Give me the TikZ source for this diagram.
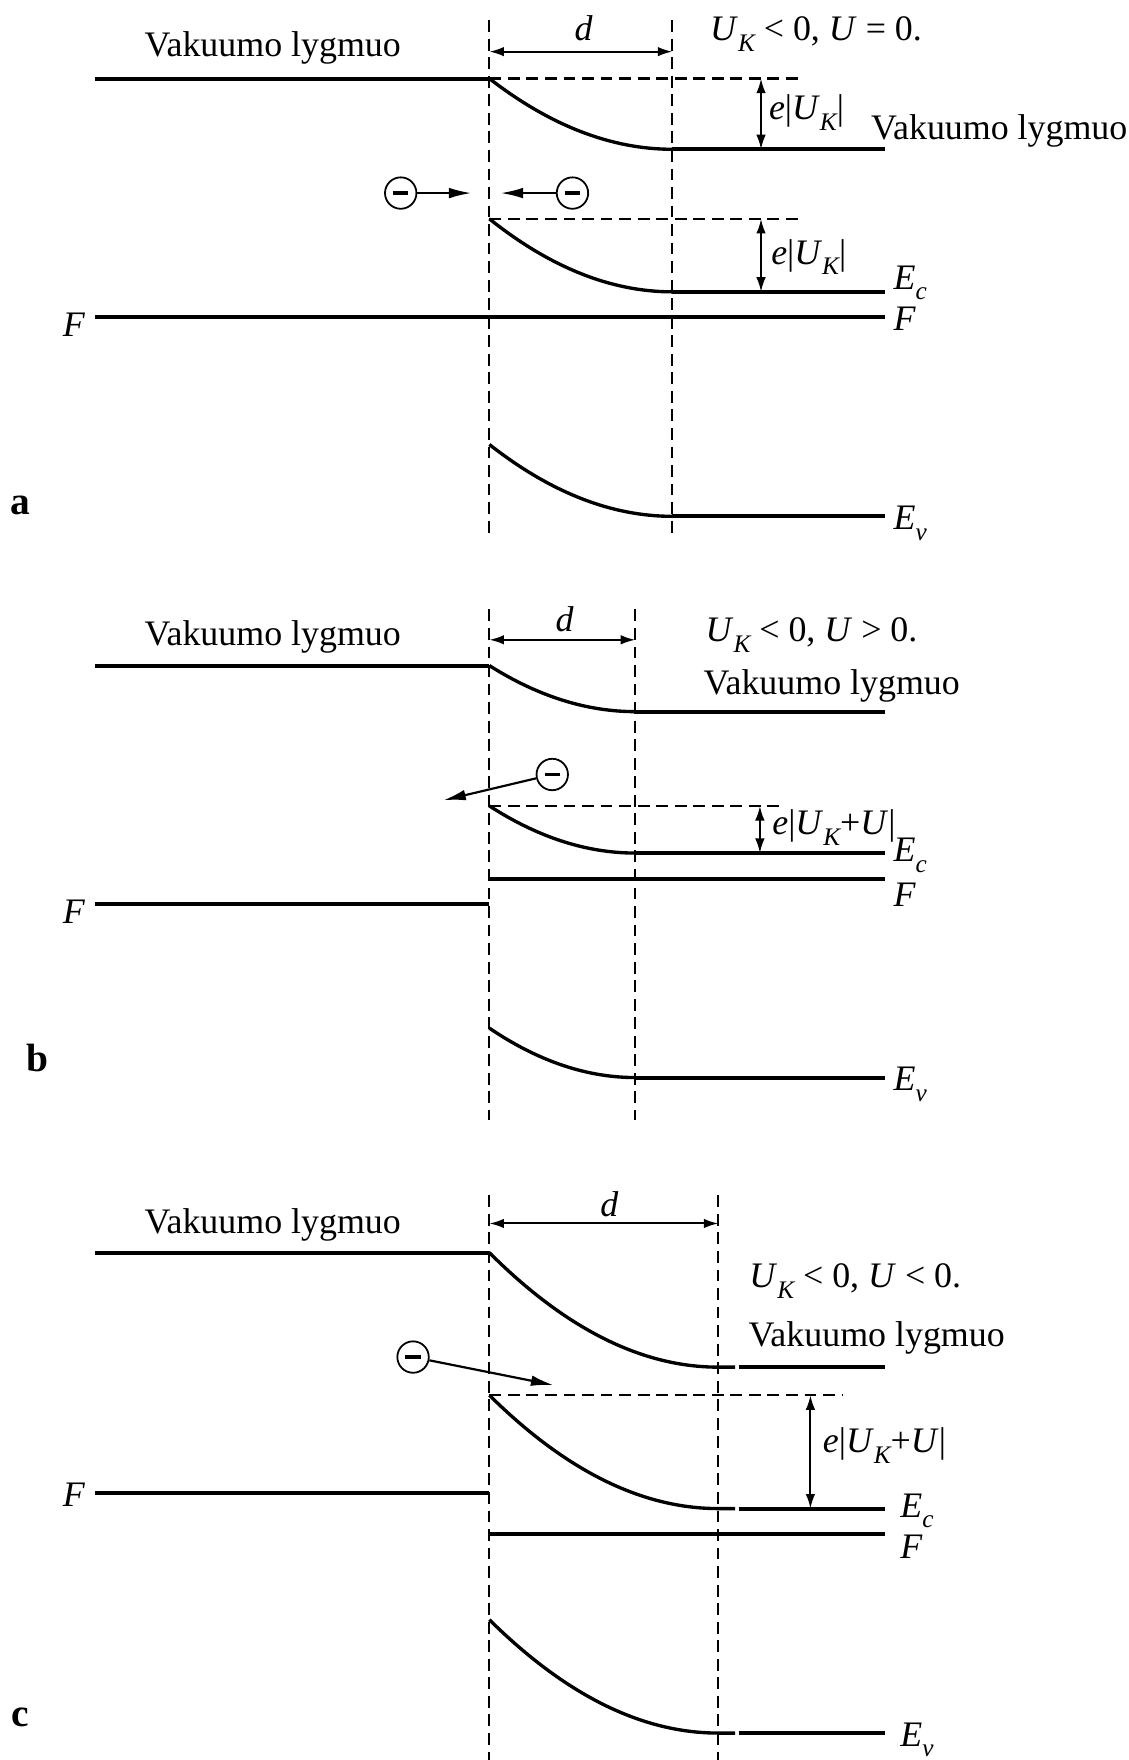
\documentclass[tikz,border=0pt]{standalone}
\usepackage{fontspec}
\setmainfont{Liberation Serif}
\usetikzlibrary{arrows.meta}
\tikzset{
  level/.style={line width=2pt},
  bendln/.style={line width=1.7pt},
  guide/.style={line width=1.1pt,dash pattern=on 6pt off 3.4pt},
  dimarr/.style={{Latex[length=2.6mm,width=1.7mm]}-{Latex[length=2.6mm,width=1.7mm]},line width=1pt},
  elarr/.style={-{Latex[length=4mm,width=1.9mm]},line width=1.1pt},
  elec/.style={circle,draw,line width=0.9pt,minimum size=5.6mm,inner sep=0pt},
  txt/.style={font=\fontsize{18.2}{20}\selectfont,inner sep=1pt},
  plbl/.style={font=\fontsize{20}{22}\selectfont\bfseries},
}
\newcommand{\lowsub}[1]{\raisebox{-5.5pt}{\fontsize{12.8}{13}\selectfont\itshape #1}}
\newcommand{\ukval}{\textit{U}\lowsub{K}}
\newcommand{\minusbar}{\rule{2.7mm}{0.62mm}}

\begin{document}
\begin{tikzpicture}[x=0.02cm,y=-0.02cm]
  \useasboundingbox (0,0) rectangle (1005,1568);

  % ---- a: U_K<0, U=0 ----
  \draw[guide] (436,18)--(436,475) (599,18)--(599,475);
  \draw[guide] (436,70)--(715,70) (436,195)--(715,195);
  \draw[level] (85,70)--(436,70);
  \node[txt] (vacLa) at (243,43) {Vakuumo lygmuo};
  \draw[dimarr] (436,46)--(599,46);
  \node[txt] (da) at (520,25) {\textit{d}};
  \node[txt] (conda) at (727,30) {\ukval{} < 0, \textit{U} = 0.};
  % bent bands, flat beyond d
  \foreach \ya/\yb in {70/133,195/260,396/460}{
    \draw[bendln] (436,\ya) .. controls ({436+163/3},{\ya+2*(\yb-\ya)/3}) and ({436+2*163/3},\yb) .. (599,\yb);
    \draw[level] (599,\yb)--(788,\yb);
  }
  \draw[dimarr] (678,70)--(678,133);
  \node[txt,anchor=west] (uka1) at (683,100) {\textit{e}|\ukval|};
  \node[txt,anchor=west] (vacRa) at (774,117) {Vakuumo lygmuo};
  \draw[dimarr] (678,195)--(678,260);
  \node[txt,anchor=west] (uka2) at (685,229) {\textit{e}|\ukval|};
  \node[txt,anchor=west] (Eca) at (794,252) {\textit{E}\lowsub{c}};
  \draw[level] (85,282)--(788,282);
  \node[txt,anchor=east] (FLa) at (78,289) {\textit{F}};
  \node[txt,anchor=west] (FRa) at (794,284) {\textit{F}};
  \node[txt,anchor=west] (Eva) at (794,466) {\textit{E}\lowsub{v}};
  \node[plbl] (pa) at (18,450) {a};
  % electrons meeting at the contact
  \node[elec] (ea1) at (357,172) {\minusbar};
  \node[elec] (ea2) at (510,172) {\minusbar};
  \coordinate (ta1) at (420,172);
  \coordinate (ta2) at (446,172);
  \draw[elarr] (ea1)--(ta1);
  \draw[elarr] (ea2)--(ta2);

  % ---- b: U_K<0, U>0 ----
  \draw[guide] (436,543)--(436,998) (566,543)--(566,998);
  \draw[guide] (436,718)--(700,718);
  \draw[level] (85,593)--(436,593);
  \node[txt] (vacLb) at (243,567) {Vakuumo lygmuo};
  \draw[dimarr] (436,570)--(566,570);
  \node[txt] (db) at (503,552) {\textit{d}};
  \node[txt] (condb) at (723,566) {\ukval{} < 0, \textit{U} > 0.};
  \node[txt] (vacRb) at (741,611) {Vakuumo lygmuo};
  \foreach \ya/\yb in {593/634,718/760,916/960}{
    \draw[bendln] (436,\ya) .. controls ({436+130/3},{\ya+2*(\yb-\ya)/3}) and ({436+2*130/3},\yb) .. (566,\yb);
    \draw[level] (566,\yb)--(788,\yb);
  }
  \draw[dimarr] (677,718)--(677,760);
  \node[txt,anchor=west] (ukb) at (686,737) {\textit{e}|\ukval+\textit{U}|};
  \node[txt,anchor=west] (Ecb) at (794,762) {\textit{E}\lowsub{c}};
  \draw[level] (85,805)--(436,805);
  \draw[level] (436,783)--(788,783);
  \node[txt,anchor=east] (FLb) at (78,812) {\textit{F}};
  \node[txt,anchor=west] (FRb) at (794,797) {\textit{F}};
  \node[txt,anchor=west] (Evb) at (794,966) {\textit{E}\lowsub{v}};
  \node[plbl] (pb) at (33,943) {b};
  % electron leaving the semiconductor
  \node[elec] (eb) at (492,690) {\minusbar};
  \coordinate (tb) at (395,713);
  \draw[elarr] (eb)--(tb);

  % ---- c: U_K<0, U<0 ----
  \draw[guide] (436,1065)--(436,1568) (640,1065)--(640,1568);
  \draw[guide] (436,1243)--(750,1243);
  \draw[level] (85,1116)--(436,1116);
  \node[txt] (vacLc) at (243,1091) {Vakuumo lygmuo};
  \draw[dimarr] (436,1090)--(640,1090);
  \node[txt] (dc) at (543,1073) {\textit{d}};
  \node[txt] (condc) at (762,1141) {\ukval{} < 0, \textit{U} < 0.};
  \node[txt] (vacRc) at (781,1192) {Vakuumo lygmuo};
  \foreach \ya/\yb in {1116/1218,1243/1344,1443/1544}{
    \draw[bendln] (436,\ya) .. controls ({436+204/3},{\ya+2*(\yb-\ya)/3}) and ({436+2*204/3},\yb) .. (640,\yb) -- (655,\yb);
    \draw[level] (658,\yb)--(788,\yb);
  }
  \draw[dimarr] (722,1243)--(722,1344);
  \node[txt,anchor=west] (ukc) at (731,1288) {\textit{e}|\ukval+\textit{U}|};
  \node[txt,anchor=west] (Ecc) at (800,1346) {\textit{E}\lowsub{c}};
  \draw[level] (85,1330)--(436,1330);
  \draw[level] (436,1367)--(788,1367);
  \node[txt,anchor=east] (FLc) at (78,1332) {\textit{F}};
  \node[txt,anchor=west] (FRc) at (800,1378) {\textit{F}};
  \node[txt,anchor=west] (Evc) at (800,1550) {\textit{E}\lowsub{v}};
  \node[plbl] (pc) at (18,1530) {c};
  % electron drawn into the semiconductor
  \node[elec] (ec) at (368,1209) {\minusbar};
  \coordinate (tc) at (493,1234);
  \draw[elarr] (ec)--(tc);
\end{tikzpicture}
\end{document}
